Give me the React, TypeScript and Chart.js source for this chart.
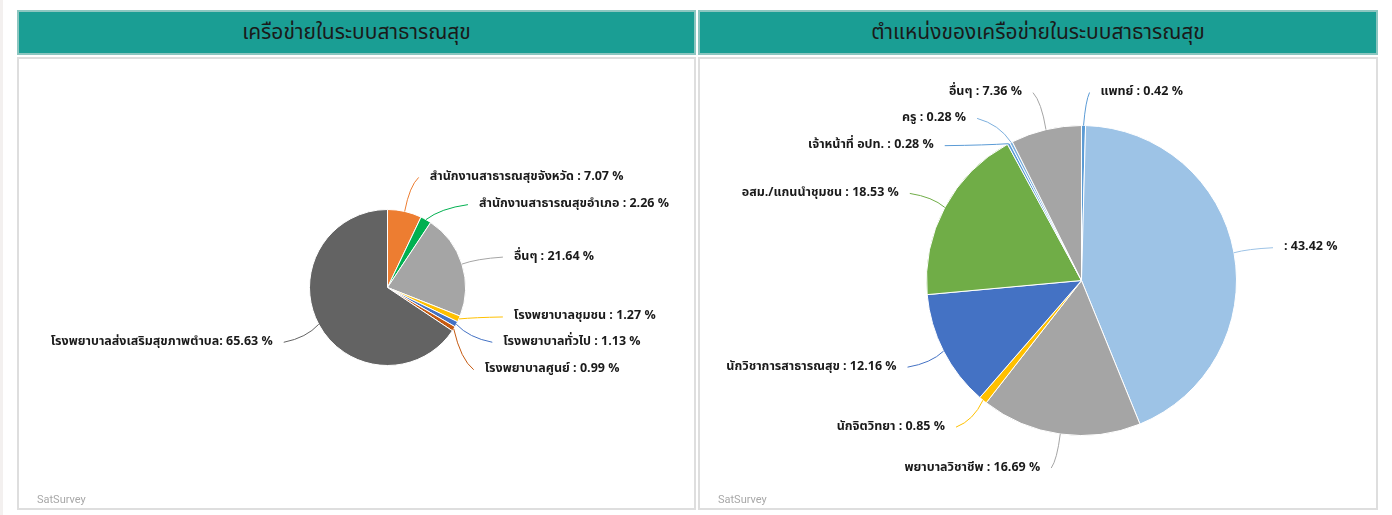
import React, { useEffect, useRef } from "react";
import { Chart, registerables } from "chart.js";

Chart.register(...registerables);

// ---------- Data ----------
const TITLE_NETWORK = "เครือข่ายในระบบสาธารณสุข";
const TITLE_POSITION = "ตำแหน่งของเครือข่ายในระบบสาธารณสุข";
const CREDIT = "SatSurvey";

const NETWORK_LABELS = [
  "สำนักงานสาธารณสุขจังหวัด",
  "สำนักงานสาธารณสุขอำเภอ",
  "อื่นๆ",
  "โรงพยาบาลชุมชน",
  "โรงพยาบาลทั่วไป",
  "โรงพยาบาลศูนย์",
  "โรงพยาบาลส่งเสริมสุขภาพตำบล",
];
const NETWORK_VALUES = [7.07, 2.26, 21.64, 1.27, 1.13, 0.99, 65.63];
const NETWORK_SEPARATORS = [" : ", " : ", " : ", " : ", " : ", " : ", ": "];

const POSITION_LABELS = [
  "แพทย์",
  "",
  "พยาบาลวิชาชีพ",
  "นักจิตวิทยา",
  "นักวิชาการสาธารณสุข",
  "อสม./แกนนำชุมชน",
  "เจ้าหน้าที่ อปท.",
  "ครู",
  "อื่นๆ",
];
const POSITION_VALUES = [0.42, 43.42, 16.69, 0.85, 12.16, 18.53, 0.28, 0.28, 7.36];
const POSITION_SEPARATORS = [" : ", ": ", " : ", " : ", " : ", " : ", " : ", " : ", " : "];

// ---------- Styles ----------
const NETWORK_COLORS = ["#ED7D31", "#00B050", "#A5A5A5", "#FFC000", "#4472C4", "#C55A11", "#636363"];
const POSITION_COLORS = ["#5B9BD5", "#9DC3E6", "#A5A5A5", "#FFC000", "#4472C4", "#70AD47", "#5B9BD5", "#7CAFDD", "#A5A5A5"];

// label anchor offsets (px) from each slice's outer mid-point
const NETWORK_LABEL_OFFSETS = [[14, -34], [42, -15], [41, -7], [44, -2], [36, 18], [20, 41], [-35, 18]];
const POSITION_LABEL_OFFSETS = [[6, -33], [39, -5], [-9, 34], [-27, 27], [-36, 16], [-35, -14], [-64, 2], [-34, -24], [-13, -37]];

const LABEL_FONT = "bold 12.5px Tahoma, 'Noto Sans Thai', 'Noto Sans', sans-serif";

function makeCallouts(texts: string[], offsets: number[][]) {
  return {
    id: "callouts",
    afterDatasetsDraw(chart: any) {
      const ctx = chart.ctx;
      const meta = chart.getDatasetMeta(0);
      const colors = chart.data.datasets[0].backgroundColor as string[];
      meta.data.forEach((arc: any, i: number) => {
        const { x, y, startAngle, endAngle, outerRadius } = arc.getProps(
          ["x", "y", "startAngle", "endAngle", "outerRadius"],
          true
        );
        const mid = (startAngle + endAngle) / 2;
        const sx = x + Math.cos(mid) * outerRadius;
        const sy = y + Math.sin(mid) * outerRadius;
        const [dx, dy] = offsets[i];
        const ex = sx + dx;
        const ey = sy + dy;
        ctx.save();
        ctx.strokeStyle = colors[i];
        ctx.lineWidth = 1;
        ctx.beginPath();
        ctx.moveTo(sx, sy);
        ctx.quadraticCurveTo(sx + dx * 0.35, ey + (sy - ey) * 0.25, ex, ey);
        ctx.stroke();
        ctx.fillStyle = "#1a1a1a";
        ctx.font = LABEL_FONT;
        ctx.textBaseline = "middle";
        const right = dx >= 0;
        ctx.textAlign = right ? "left" : "right";
        ctx.fillText(texts[i], ex + (right ? 11 : -11), ey);
        ctx.restore();
      });
    },
  };
}

type PanelProps = {
  left: number;
  width: number;
  title: string;
  labels: string[];
  values: number[];
  separators: string[];
  colors: string[];
  offsets: number[][];
  padding: { left: number; right: number; top: number; bottom: number };
};

function Panel(p: PanelProps) {
  const ref = useRef<HTMLCanvasElement | null>(null);
  const innerW = p.width - 4;
  const innerH = 449;
  useEffect(() => {
    if (!ref.current) return;
    const texts = p.labels.map((l, i) => `${l}${p.separators[i]}${p.values[i].toFixed(2)} %`);
    const chart = new Chart(ref.current, {
      type: "pie",
      data: {
        labels: p.labels,
        datasets: [
          {
            data: p.values,
            backgroundColor: p.colors,
            borderColor: "#ffffff",
            borderWidth: 1,
          },
        ],
      },
      options: {
        responsive: false,
        animation: false,
        layout: { padding: p.padding },
        plugins: { legend: { display: false }, tooltip: { enabled: false } },
      },
      plugins: [makeCallouts(texts, p.offsets)],
    } as any);
    return () => chart.destroy();
  }, []);
  return (
    <>
      <div
        style={{
          position: "absolute",
          left: p.left,
          top: 10,
          width: p.width,
          height: 45,
          boxSizing: "border-box",
          background: "#1a9e94",
          border: "2px solid #8cc6c0",
          color: "#1a1a1a",
          fontFamily: "'Noto Sans Thai', 'Noto Sans', sans-serif",
          fontSize: 21,
          lineHeight: "41px",
          textAlign: "center",
          fontStretch: "condensed",
        }}
      >
        {p.title}
      </div>
      <div
        style={{
          position: "absolute",
          left: p.left,
          top: 57,
          width: p.width,
          height: 453,
          boxSizing: "border-box",
          border: "2px solid #dedede",
          background: "#fff",
        }}
      >
        <canvas ref={ref} width={innerW} height={innerH} style={{ display: "block", width: innerW, height: innerH }} />
        <div
          style={{
            position: "absolute",
            left: 18,
            top: 434,
            fontFamily: "Roboto, Arial, sans-serif",
            fontSize: 11,
            color: "#a8a8a8",
          }}
        >
          {CREDIT}
        </div>
      </div>
    </>
  );
}

export default function App() {
  return (
    <div style={{ position: "absolute", left: 0, top: 0, width: 1392, height: 515, background: "#fff", overflow: "hidden" }}>
      <div style={{ position: "absolute", left: 0, top: 0, width: 3, height: 515, background: "#f3f0ef" }} />
      <Panel
        left={17}
        width={679}
        title={TITLE_NETWORK}
        labels={NETWORK_LABELS}
        values={NETWORK_VALUES}
        separators={NETWORK_SEPARATORS}
        colors={NETWORK_COLORS}
        offsets={NETWORK_LABEL_OFFSETS}
        padding={{ left: 290, right: 228, top: 150, bottom: 142 }}
      />
      <Panel
        left={698}
        width={680}
        title={TITLE_POSITION}
        labels={POSITION_LABELS}
        values={POSITION_VALUES}
        separators={POSITION_SEPARATORS}
        colors={POSITION_COLORS}
        offsets={POSITION_LABEL_OFFSETS}
        padding={{ left: 226, right: 139, top: 66, bottom: 72 }}
      />
    </div>
  );
}
